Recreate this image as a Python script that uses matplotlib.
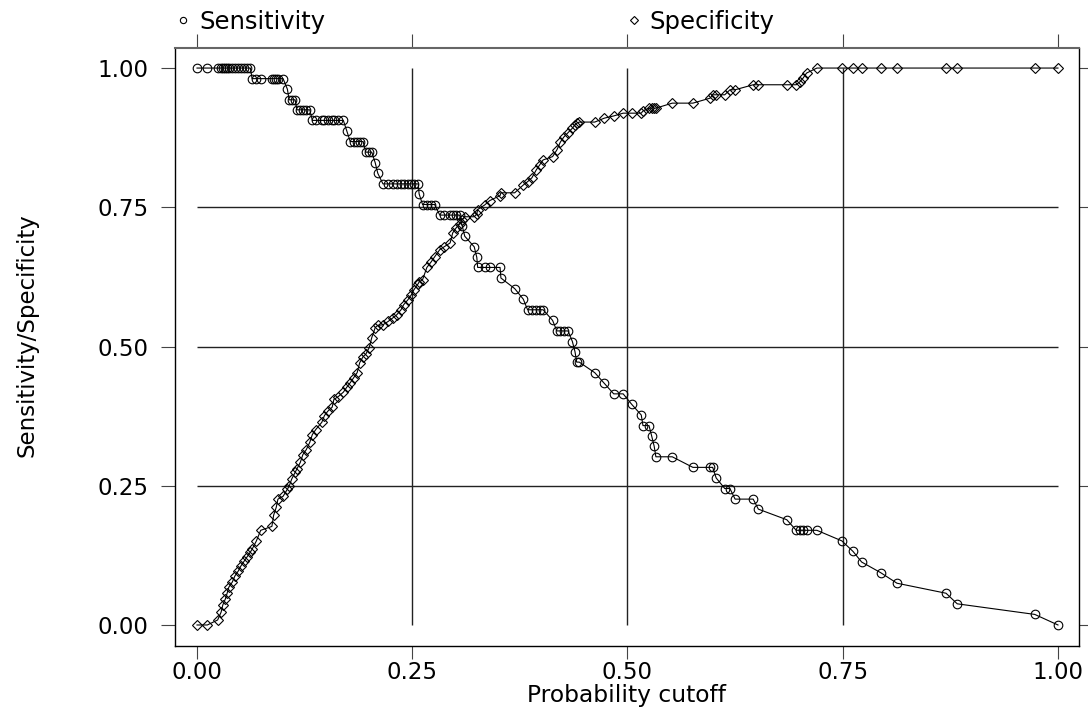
import matplotlib
matplotlib.use('Agg')
import matplotlib.pyplot as plt
from matplotlib.lines import Line2D

# probability cutoffs (shared by both curves)
cutoff = [0.000, 0.012, 0.024, 0.028, 0.030, 0.033, 0.035, 0.037, 0.041, 0.044,
          0.048, 0.051, 0.055, 0.058, 0.062, 0.064, 0.069, 0.074, 0.087, 0.089,
          0.092, 0.094, 0.100, 0.105, 0.107, 0.110, 0.114, 0.116, 0.120, 0.123,
          0.127, 0.131, 0.134, 0.138, 0.145, 0.148, 0.152, 0.157, 0.159, 0.164,
          0.170, 0.174, 0.178, 0.182, 0.186, 0.189, 0.193, 0.196, 0.200, 0.203,
          0.207, 0.210, 0.216, 0.222, 0.228, 0.232, 0.237, 0.240, 0.245, 0.249,
          0.252, 0.257, 0.258, 0.262, 0.267, 0.272, 0.276, 0.282, 0.287, 0.294,
          0.297, 0.301, 0.305, 0.308, 0.311, 0.322, 0.325, 0.326, 0.334, 0.340,
          0.352, 0.353, 0.369, 0.379, 0.384, 0.389, 0.394, 0.398, 0.402, 0.413,
          0.418, 0.422, 0.426, 0.431, 0.436, 0.439, 0.441, 0.444, 0.462, 0.473,
          0.484, 0.495, 0.505, 0.516, 0.518, 0.525, 0.528, 0.531, 0.533, 0.552,
          0.576, 0.596, 0.599, 0.603, 0.613, 0.619, 0.625, 0.646, 0.652, 0.685,
          0.696, 0.700, 0.704, 0.708, 0.720, 0.749, 0.762, 0.772, 0.794, 0.813,
          0.870, 0.883, 0.973, 1.000]

sensitivity = [1.000, 1.000, 1.000, 1.000, 1.000, 1.000, 1.000, 1.000, 1.000, 1.000,
               1.000, 1.000, 1.000, 1.000, 1.000, 0.981, 0.981, 0.981, 0.981, 0.981,
               0.981, 0.981, 0.981, 0.962, 0.943, 0.943, 0.943, 0.925, 0.925, 0.925,
               0.925, 0.925, 0.906, 0.906, 0.906, 0.906, 0.906, 0.906, 0.906, 0.906,
               0.906, 0.887, 0.868, 0.868, 0.868, 0.868, 0.868, 0.849, 0.849, 0.849,
               0.830, 0.811, 0.792, 0.792, 0.792, 0.792, 0.792, 0.792, 0.792, 0.792,
               0.792, 0.792, 0.774, 0.755, 0.755, 0.755, 0.755, 0.736, 0.736, 0.736,
               0.736, 0.736, 0.736, 0.717, 0.698, 0.679, 0.660, 0.642, 0.642, 0.642,
               0.642, 0.623, 0.604, 0.585, 0.566, 0.566, 0.566, 0.566, 0.566, 0.547,
               0.528, 0.528, 0.528, 0.528, 0.509, 0.491, 0.472, 0.472, 0.453, 0.434,
               0.415, 0.415, 0.396, 0.377, 0.358, 0.358, 0.340, 0.321, 0.302, 0.302,
               0.283, 0.283, 0.283, 0.264, 0.245, 0.245, 0.226, 0.226, 0.208, 0.189,
               0.170, 0.170, 0.170, 0.170, 0.170, 0.151, 0.132, 0.113, 0.094, 0.075,
               0.057, 0.038, 0.019, 0.000]

specificity = [0.000, 0.000, 0.009, 0.023, 0.036, 0.047, 0.057, 0.068, 0.077, 0.088,
               0.097, 0.106, 0.115, 0.122, 0.131, 0.136, 0.151, 0.170, 0.177, 0.197,
               0.211, 0.226, 0.231, 0.244, 0.249, 0.262, 0.274, 0.280, 0.292, 0.306,
               0.315, 0.328, 0.342, 0.351, 0.364, 0.376, 0.384, 0.391, 0.405, 0.410,
               0.418, 0.427, 0.435, 0.444, 0.453, 0.471, 0.482, 0.486, 0.498, 0.516,
               0.534, 0.538, 0.539, 0.545, 0.552, 0.557, 0.566, 0.575, 0.584, 0.593,
               0.602, 0.613, 0.616, 0.620, 0.642, 0.652, 0.661, 0.674, 0.679, 0.686,
               0.704, 0.713, 0.720, 0.728, 0.733, 0.733, 0.738, 0.746, 0.754, 0.762,
               0.771, 0.776, 0.776, 0.790, 0.796, 0.803, 0.817, 0.826, 0.835, 0.841,
               0.853, 0.867, 0.876, 0.884, 0.892, 0.898, 0.901, 0.903, 0.903, 0.910,
               0.914, 0.919, 0.919, 0.919, 0.923, 0.928, 0.928, 0.928, 0.928, 0.937,
               0.937, 0.946, 0.952, 0.952, 0.952, 0.961, 0.961, 0.970, 0.970, 0.970,
               0.970, 0.975, 0.982, 0.991, 1.000, 1.000, 1.000, 1.000, 1.000, 1.000,
               1.000, 1.000, 1.000, 1.000]

ticks = [0, 0.25, 0.5, 0.75, 1]
tick_labels = ['0.00', '0.25', '0.50', '0.75', '1.00']

plt.rcParams['font.family'] = ['DejaVu Sans']
plt.rcParams['font.size'] = 16.5

fig = plt.figure(figsize=(10.88, 7.08), dpi=100)
ax = fig.add_axes([0.1608, 0.0876, 0.8309, 0.8446])

# grid lines only inside the [0, 1] range
ax.hlines([0.25, 0.5, 0.75], 0, 1, colors='#222222', lw=1.0, zorder=1)
ax.vlines([0.25, 0.5, 0.75], 0, 1, colors='#222222', lw=1.0, zorder=1)

ax.plot(cutoff, sensitivity, '-o', color='black', lw=0.8, ms=6.2,
        mfc='none', mew=0.8, zorder=3)
ax.plot(cutoff, specificity, '-D', color='black', lw=0.8, ms=4.6,
        mfc='none', mew=0.8, zorder=3)

ax.set_xlim(-0.0256, 1.0244)
ax.set_ylim(-0.0377, 1.036)
ax.set_xticks(ticks, tick_labels)
ax.set_yticks(ticks, tick_labels)

ax.tick_params(axis='x', which='both', bottom=True, top=True, direction='out',
               length=9.4, width=0.8, color='#444444', pad=1.5)
ax.tick_params(axis='y', which='both', left=True, right=True, direction='out',
               length=10, width=0.8, color='#444444', pad=9)
for t in ax.yaxis.get_major_ticks():
    t.tick2line.set_markersize(6.5)
for t in ax.xaxis.get_major_ticks():
    t.tick2line.set_markersize(10)

for side in ['left', 'right', 'bottom']:
    ax.spines[side].set_color('black')
    ax.spines[side].set_linewidth(1.0)
ax.spines['top'].set_color('#666666')
ax.spines['top'].set_linewidth(1.5)

ax.set_xlabel('Probability cutoff', va='baseline', fontsize=16.8)
ax.xaxis.set_label_coords(0.5, -0.0937)
ax.set_ylabel('Sensitivity/Specificity', va='center')
ax.yaxis.set_label_coords(-0.164, 0.52)

handles = [Line2D([], [], ls='none', marker='o', ms=4.5, mfc='none', mec='black', mew=0.8),
           Line2D([], [], ls='none', marker='D', ms=3.6, mfc='none', mec='black', mew=0.8)]
fig.legend(handles, ['Sensitivity', 'Specificity'], ncol=2, loc='center left',
           bbox_to_anchor=(0.1507, 0.969), frameon=False, borderpad=0,
           handlelength=0.6, handletextpad=0.35, columnspacing=12.4,
           prop={'size': 17.5})

fig.savefig('out.png', dpi=100)
